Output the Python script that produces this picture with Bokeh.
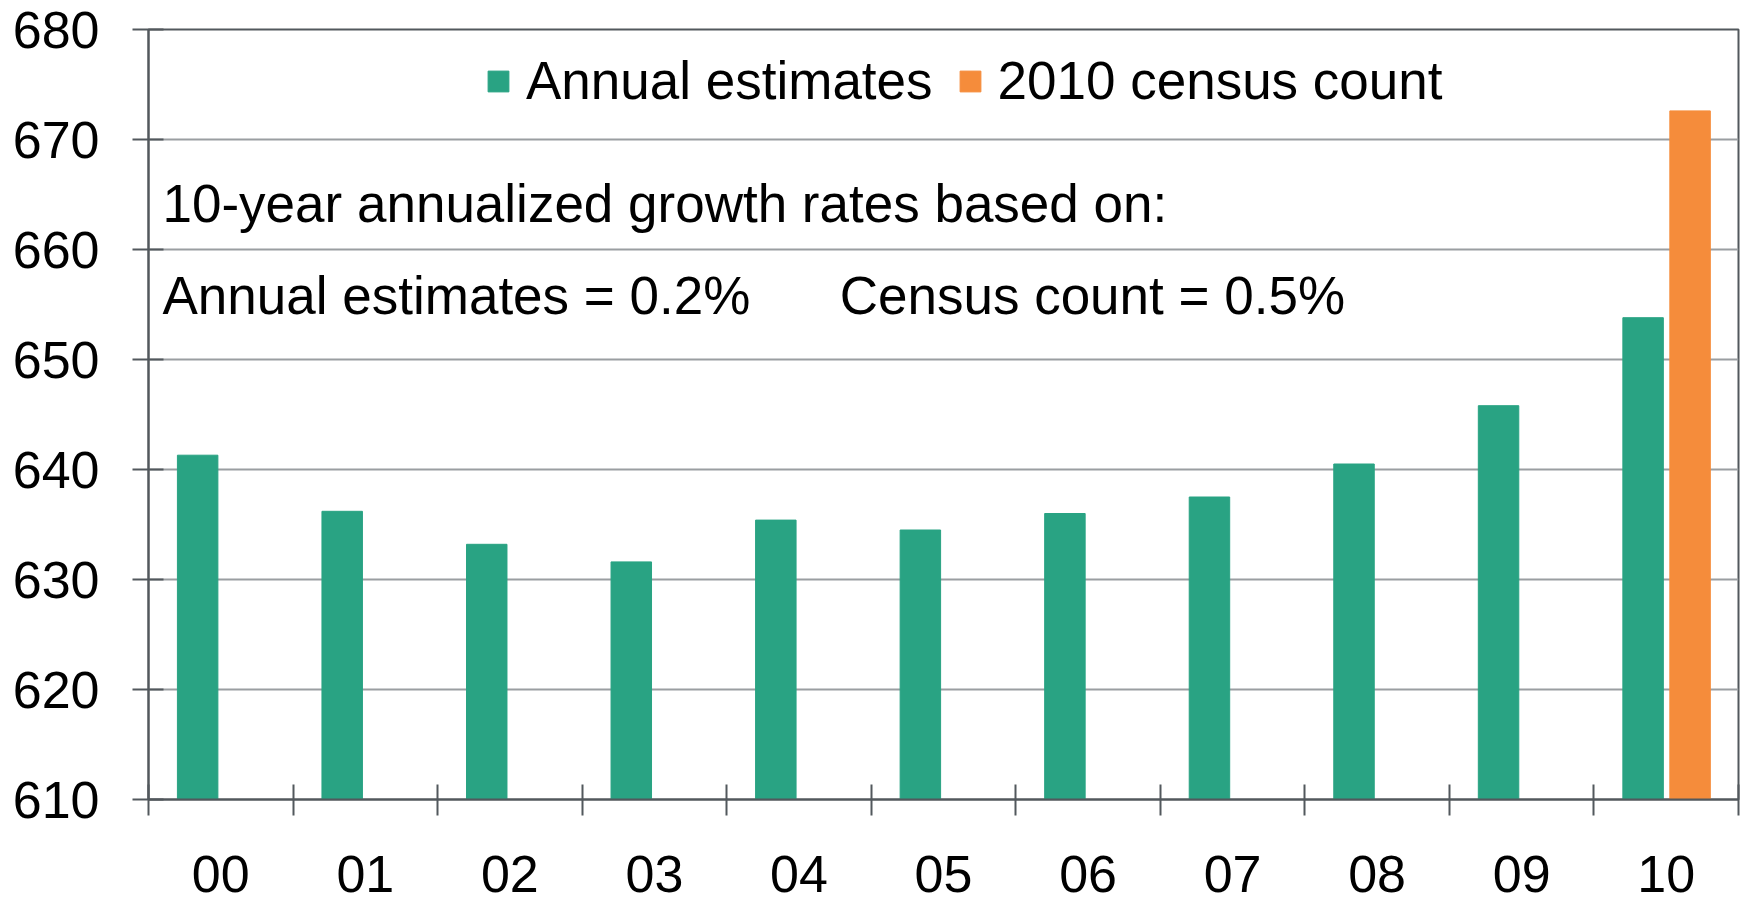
from bokeh.plotting import figure
from bokeh.models import (ColumnDataSource, Range1d, FixedTicker, Legend, LegendItem, Label)
from bokeh.transform import dodge
from bokeh.embed import file_html
from bokeh.resources import INLINE

# ---- data ----
years = ["00", "01", "02", "03", "04", "05", "06", "07", "08", "09", "10"]
annual_estimates = [641.3, 636.2, 633.2, 631.6, 635.4, 634.5, 636.0, 637.5, 640.5, 645.8, 653.8]
census_years = ["10"]
census_count = [672.6]
y_ticks = [610, 620, 630, 640, 650, 660, 670, 680]
legend_labels = ["Annual estimates", "2010 census count"]
note_title = "10-year annualized growth rates based on:"
note_annual = "Annual estimates = 0.2%"
note_census = "Census count = 0.5%"

GREEN = "#29a383"
ORANGE = "#f58c3b"
AXIS = "#52585d"
GRID = "#9a9ea1"
FONT = "Liberation Sans"
FS_TICK = "52px"
FS_TEXT = "53px"

pos = {y: i for i, y in enumerate(years)}
src_a = ColumnDataSource(dict(x=[pos[y] for y in years], top=annual_estimates))
src_c = ColumnDataSource(dict(x=[pos[y] for y in census_years], top=census_count))

p = figure(width=1743, height=901, output_backend="svg", toolbar_location=None,
           x_range=Range1d(-0.5, len(years) - 0.5), y_range=Range1d(y_ticks[0], y_ticks[-1]),
           min_border_left=148, min_border_top=29, min_border_right=5, min_border_bottom=102,
           background_fill_color="white", border_fill_color="white")

r_a = p.vbar(x=dodge("x", -0.16, range=p.x_range), top="top", bottom=y_ticks[0], width=0.28,
             source=src_a, fill_color=GREEN, line_color=GREEN)
r_c = p.vbar(x=dodge("x", 0.165, range=p.x_range), top="top", bottom=y_ticks[0], width=0.28,
             source=src_c, fill_color=ORANGE, line_color=ORANGE)

# axes
xa = p.xaxis[0]
xa.ticker = FixedTicker(ticks=list(range(len(years))),
                        minor_ticks=[i - 0.5 for i in range(len(years) + 1)])
xa.major_label_overrides = {i: y for i, y in enumerate(years)}
xa.major_tick_in = 0
xa.major_tick_out = 0
xa.minor_tick_in = 15
xa.minor_tick_out = 16
xa.minor_tick_line_color = AXIS
xa.minor_tick_line_width = 2
xa.axis_line_color = AXIS
xa.axis_line_width = 2
xa.major_label_text_font = FONT
xa.major_label_text_font_size = FS_TICK
xa.major_label_text_color = "black"
xa.major_label_standoff = 40

ya = p.yaxis[0]
ya.ticker = FixedTicker(ticks=y_ticks)
ya.minor_tick_line_color = None
ya.major_tick_in = 15
ya.major_tick_out = 16
ya.major_tick_line_color = AXIS
ya.major_tick_line_width = 2
ya.axis_line_color = AXIS
ya.axis_line_width = 2
ya.major_label_text_font = FONT
ya.major_label_text_font_size = FS_TICK
ya.major_label_text_color = "black"
ya.major_label_standoff = 33

p.xgrid.grid_line_color = None
p.ygrid.grid_line_color = GRID
p.ygrid.grid_line_width = 2
p.outline_line_color = AXIS
p.outline_line_width = 2

legend = Legend(items=[LegendItem(label=legend_labels[0], renderers=[r_a]),
                       LegendItem(label=legend_labels[1], renderers=[r_c])],
                location=(337, 688), orientation="horizontal",
                label_text_font=FONT, label_text_font_size=FS_TEXT, label_text_color="black",
                glyph_width=26, glyph_height=26, label_standoff=15, spacing=24,
                border_line_color=None, background_fill_alpha=0, padding=10, margin=0)
p.add_layout(legend)

for txt, x, y in [(note_title, -0.403, 664.2), (note_annual, -0.403, 655.8), (note_census, 4.282, 655.8)]:
    p.add_layout(Label(x=x, y=y, text=txt,
                       text_font=FONT, text_font_size=FS_TEXT, text_color="black",
                       text_baseline="alphabetic"))

open("out.html", "w").write(file_html(p, INLINE))
